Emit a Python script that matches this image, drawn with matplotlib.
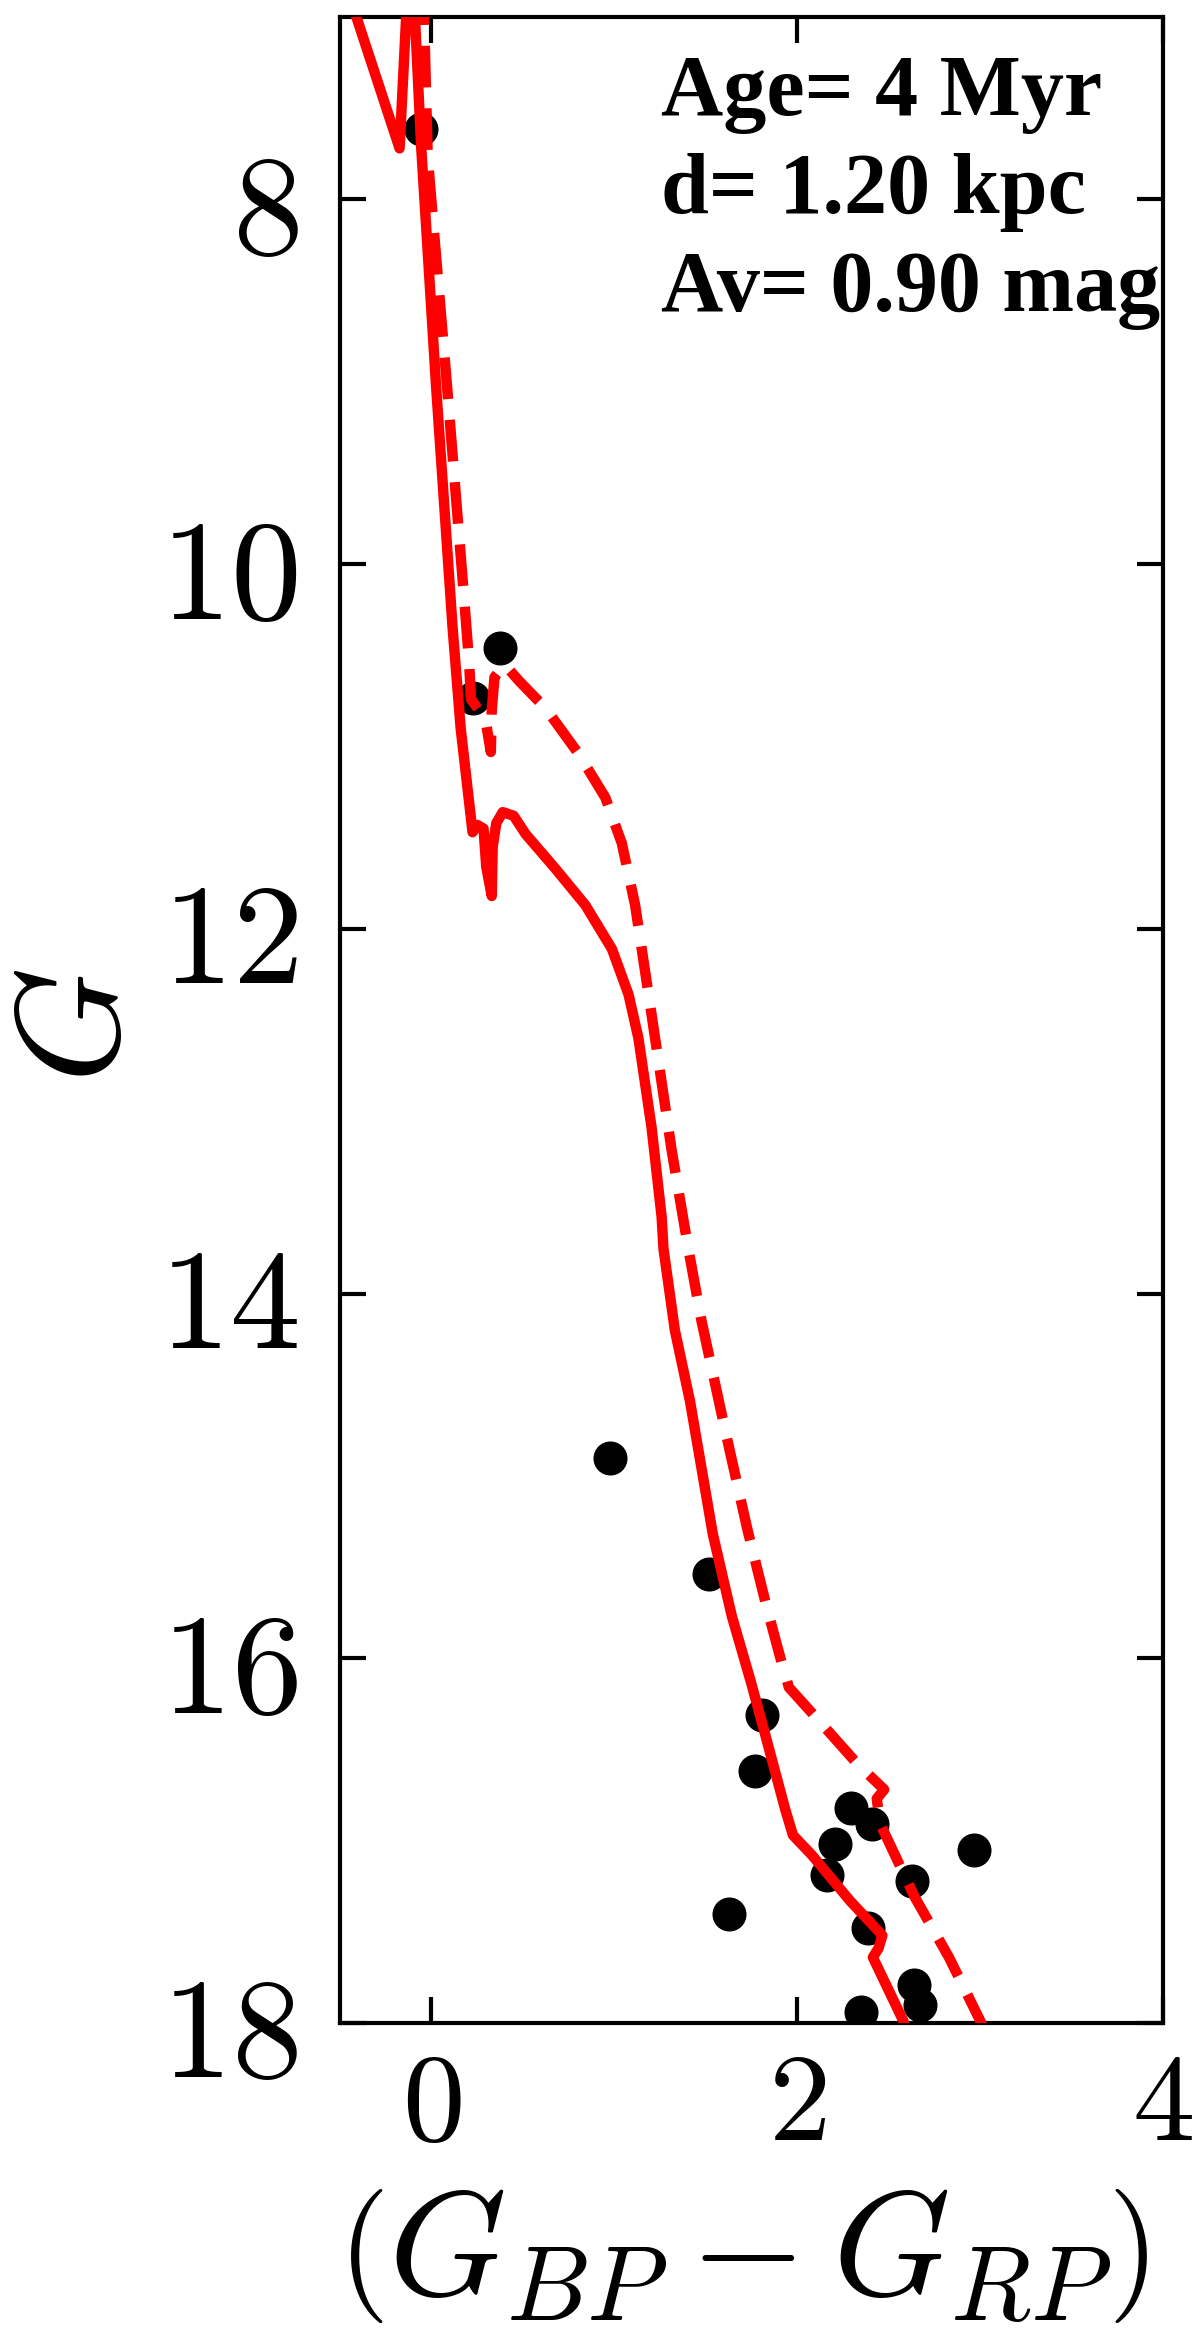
"""
Gaia colour-magnitude diagram with a 4 Myr isochrone
====================================================

Cluster members as black dots, the single-star isochrone (solid red)
and the equal-mass binary sequence (dashed red).  Writes ``out.png``.
"""

import matplotlib
matplotlib.use("Agg")
import matplotlib.pyplot as plt
from matplotlib.ticker import FixedLocator, FuncFormatter

# ── member stars ──────────────────────────────────────
star_bp_rp = [-0.056, 0.23, 0.374, 0.977, 1.518, 1.81, 1.768, 2.293, 2.41,
              2.206, 2.164, 2.966, 2.629, 1.629, 2.39, 2.639, 2.67, 2.35]
star_g = [7.614, 10.735, 10.461, 14.90, 15.537, 16.31, 16.62, 16.82, 16.91,
          17.02, 17.19, 17.05, 17.22, 17.40, 17.48, 17.79, 17.90, 17.94]

# ── isochrone, single stars (faint end first) ─────────
iso_bp_rp = [2.60, 2.581, 2.414, 2.445, 2.466, 2.289, 2.081, 1.977, 1.935,
             1.831, 1.747, 1.643, 1.539, 1.414, 1.331, 1.269, 1.259, 1.204,
             1.132, 1.078, 0.987, 0.842, 0.678, 0.515, 0.45, 0.39, 0.355,
             0.335, 0.33, 0.30, 0.285, 0.25, 0.225, 0.16, 0.116, 0.026,
             -0.056, -0.09, -0.10, -0.13, -0.138, -0.174, -0.41, -0.45]
iso_g = [18.05, 17.99, 17.64, 17.59, 17.52, 17.33, 17.08, 16.97, 16.83,
         16.44, 16.13, 15.77, 15.32, 14.59, 14.20, 13.754, 13.58, 13.09,
         12.60, 12.36, 12.11, 11.87, 11.67, 11.48, 11.38, 11.36, 11.42,
         11.55, 11.82, 11.66, 11.45, 11.43, 11.47, 10.90, 10.35, 9.03,
         7.71, 7.0, 6.8, 6.8, 7.0, 7.72, 7.0, 6.88]

# ── binary sequence ───────────────────────────────────
bin_bp_rp = [3.03, 2.997, 2.830, 2.643, 2.455, 2.435, 2.476, 2.330, 2.081,
             1.955, 1.914, 1.831, 1.727, 1.602, 1.477, 1.404, 1.313, 1.241,
             1.168, 1.114, 1.041, 0.951, 0.805, 0.624, 0.479, 0.40, 0.345,
             0.33, 0.325, 0.30, 0.26, 0.216, 0.207, 0.18, 0.086, -0.02,
             -0.04, -0.05]
bin_g = [18.05, 17.98, 17.64, 17.31, 16.91, 16.77, 16.72, 16.58, 16.30,
         16.16, 16.02, 15.71, 15.29, 14.73, 14.15, 13.75, 13.21, 12.72,
         12.23, 11.87, 11.53, 11.28, 11.04, 10.79, 10.64, 10.55, 10.62,
         10.80, 11.03, 10.88, 10.80, 10.74, 10.55, 10.20, 9.03, 7.77,
         7.0, 6.8]

x_ticks = [0, 2, 4]
y_ticks = [8, 10, 12, 14, 16, 18]

info_lines = ["Age= 4 Myr", "d= 1.20 kpc", "Av= 0.90 mag"]

RED = "#ff0000"

plt.rcParams["mathtext.fontset"] = "cm"

fig = plt.figure(figsize=(12, 23.43), dpi=100)
ax = fig.add_axes([0.2833, 0.1366, 0.6858, 0.8561])

ax.plot(star_bp_rp, star_g, "o", color="black", markersize=23.5, zorder=2)
ax.plot(iso_bp_rp, iso_g, "-", color=RED, linewidth=7.5, zorder=3)
ax.plot(bin_bp_rp, bin_g, "--", color=RED, linewidth=7.5,
        dashes=(4.0, 2.0), zorder=3)

ax.set_xlim(-0.5, 4)
ax.set_ylim(18, 7)

# parameters, one line each, top right
for i, line in enumerate(info_lines):
    ax.text(1.257, 7.539 + 0.536 * i, line, family="Liberation Serif",
            weight="bold", fontsize=62, ha="left", va="baseline")

tex = FuncFormatter(lambda v, _: f"${v:g}$")
ax.xaxis.set_major_locator(FixedLocator(x_ticks))
ax.yaxis.set_major_locator(FixedLocator(y_ticks))
ax.xaxis.set_major_formatter(tex)
ax.yaxis.set_major_formatter(tex)
ax.minorticks_off()

ax.tick_params(direction="in", length=19, width=3, top=True, right=True)
ax.tick_params(axis="x", labelsize=90, pad=16)
ax.tick_params(axis="y", labelsize=102, pad=30)
for sp in ax.spines.values():
    sp.set_linewidth(3)

ax.set_xlabel(r"$\left(G_{BP} - G_{RP}\right)$", fontsize=108)
ax.set_ylabel(r"$G$", fontsize=106)
ax.xaxis.set_label_coords(0.489, -0.079)
ax.yaxis.set_label_coords(-0.232, 0.497)

fig.savefig("out.png", dpi=100)
plt.close(fig)
